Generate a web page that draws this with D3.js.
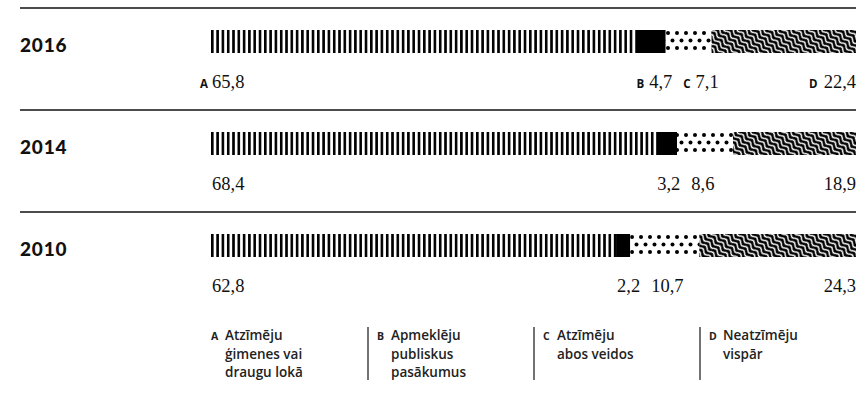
<!DOCTYPE html>
<html>
<head>
<meta charset="utf-8">
<script src="https://cdn.jsdelivr.net/npm/d3@7"></script>
<style>
  body { margin: 0; background: #fff; }
  svg { display: block; }
</style>
</head>
<body>
<svg id="chart" width="861" height="414"></svg>
<script>
// data
const years = ["2016", "2014", "2010"];
const keys = ["A", "B", "C", "D"];
const seriesA = [65.8, 68.4, 62.8];
const seriesB = [4.7, 3.2, 2.2];
const seriesC = [7.1, 8.6, 10.7];
const seriesD = [22.4, 18.9, 24.3];
const legendLetters = ["A", "B", "C", "D"];
const legendLines = [
	["Atzīmēju", "ģimenes vai", "draugu lokā"],
	["Apmeklēju", "publiskus", "pasākumus"],
	["Atzīmēju", "abos veidos"],
	["Neatzīmēju", "vispār"]
];

const fmt = v => String(v).replace(".", ",");

const rows = years.map((y, i) => ({year: y, A: seriesA[i], B: seriesB[i], C: seriesC[i], D: seriesD[i]}));

// each bar is stretched to full width (2014 sums to 99,1)
const stacked = d3.stack().keys(keys).offset(d3.stackOffsetExpand)(rows);

const svg = d3.select("#chart");

const x = d3.scaleLinear().domain([0, 1]).range([211, 856]);
const rowY = d3.scaleBand().domain(years).range([8, 314]);
const barTop = 22, barH = 23;

// patterns
const defs = svg.append("defs");

let pA = defs.append("pattern").attr("id", "pA")
	.attr("patternUnits", "userSpaceOnUse")
	.attr("x", 211).attr("width", 5.3).attr("height", 10);
pA.append("rect").attr("width", 5.3).attr("height", 10).attr("fill", "#fff");
pA.append("rect").attr("width", 2.6).attr("height", 10).attr("fill", "#000");

let pC = defs.append("pattern").attr("id", "pC")
	.attr("patternUnits", "userSpaceOnUse")
	.attr("width", 9).attr("height", 15);
pC.append("rect").attr("width", 9).attr("height", 15).attr("fill", "#fff");
[[2, 3], [6.5, 10.5], [2, 18], [-2.5, 10.5], [11, 3], [6.5, -4.5]].forEach(p => {
	pC.append("circle").attr("cx", p[0]).attr("cy", p[1]).attr("r", 2).attr("fill", "#000");
});

let pD = defs.append("pattern").attr("id", "pD")
	.attr("patternUnits", "userSpaceOnUse")
	.attr("width", 10).attr("height", 4.6)
	.attr("patternTransform", "rotate(45)");
pD.append("rect").attr("width", 10).attr("height", 4.6).attr("fill", "#000");
pD.append("path").attr("d", "M-5,2.3 Q-2.5,-0.2 0,2.3 T5,2.3 T10,2.3 T15,2.3")
	.attr("fill", "none").attr("stroke", "#fff").attr("stroke-width", 1.5);

const fills = {A: "url(#pA)", B: "#000", C: "url(#pC)", D: "url(#pD)"};

// separators
svg.selectAll("line.sep")
	.data(years)
	.enter().append("line")
	.attr("class", "sep")
	.attr("x1", 20).attr("x2", 856)
	.attr("y1", d => rowY(d)).attr("y2", d => rowY(d))
	.attr("stroke", "#111").attr("stroke-width", 1.3);

// rows
years.forEach((yr, i) => {
	let g = svg.append("g").attr("transform", `translate(0, ${rowY(yr) + barTop})`);

	g.append("text")
		.attr("x", 20).attr("y", 22)
		.attr("font-family", "Lato").attr("font-weight", 900)
		.attr("font-size", 19).attr("letter-spacing", 0.8).attr("fill", "#111")
		.text(yr);

	stacked.forEach(s => {
		let d = s[i];
		g.append("rect")
			.attr("x", x(d[0])).attr("width", x(d[1]) - x(d[0]))
			.attr("y", 0).attr("height", barH)
			.attr("fill", fills[s.key]);
	});

	// value labels
	const ly = 58;
	const first = i == 0;
	let letter = (lx, k, anchor) => g.append("text")
		.attr("x", lx).attr("y", ly)
		.attr("font-family", "Open Sans").attr("font-weight", 700)
		.attr("font-size", 11.5).attr("fill", "#111")
		.attr("text-anchor", anchor || "start")
		.text(k);
	let num = (lx, v, anchor) => g.append("text")
		.attr("x", lx).attr("y", ly)
		.attr("font-family", "Liberation Serif")
		.attr("font-size", 18.5).attr("fill", "#111")
		.attr("text-anchor", anchor || "start")
		.text(fmt(v));

	// A
	num(x(0) + 1, rows[i].A);
	if (first) letter(x(0) - 3, "A", "end");

	// B
	let cur = x(stacked[1][i][0]) + 1;
	if (first) {
		let t = letter(cur, "B");
		cur += t.node().getComputedTextLength() + 5;
	}
	let tb = num(cur, rows[i].B);
	cur += tb.node().getComputedTextLength();

	// C
	cur = Math.max(x(stacked[2][i][0]), cur + 11);
	if (first) {
		let t = letter(cur, "C");
		cur += t.node().getComputedTextLength() + 5;
	}
	num(cur, rows[i].C);

	// D
	let td = num(x(1), rows[i].D, "end");
	if (first) letter(x(1) - td.node().getComputedTextLength() - 6, "D", "end");
});

// legend
const legX = d3.scalePoint().domain(legendLetters).range([203, 701]);
let leg = svg.selectAll("g.leg")
	.data(legendLetters)
	.enter().append("g")
	.attr("class", "leg")
	.attr("transform", d => `translate(${legX(d)}, 0)`);

leg.filter((d, i) => i > 0).append("line")
	.attr("x1", -1).attr("x2", -1)
	.attr("y1", 327).attr("y2", 380)
	.attr("stroke", "#444").attr("stroke-width", 1.5);

leg.append("text")
	.attr("x", 8).attr("y", 340)
	.attr("font-family", "Open Sans").attr("font-weight", 700)
	.attr("font-size", 10.5).attr("fill", "#222")
	.text(d => d);

leg.each(function(d, i) {
	d3.select(this).selectAll("text.ll")
		.data(legendLines[i])
		.enter().append("text")
		.attr("class", "ll")
		.attr("x", 22).attr("y", (t, j) => 340 + j * 18.5)
		.attr("font-family", "Open Sans").attr("font-weight", 600)
		.attr("font-size", 13.5).attr("fill", "#222")
		.text(t => t);
});
</script>
</body>
</html>
